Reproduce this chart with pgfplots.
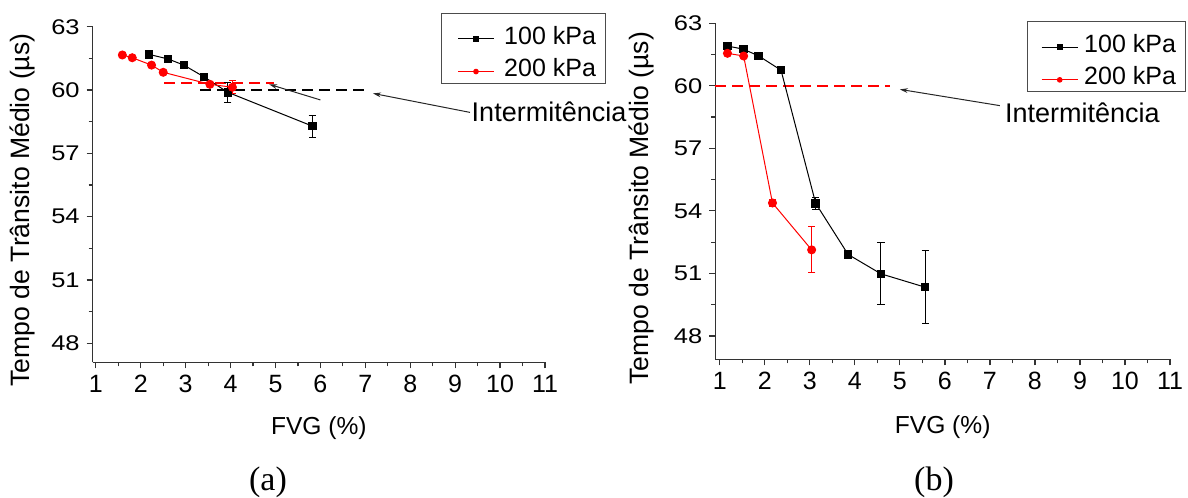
\documentclass[border=0pt]{standalone}
\usepackage{fontspec}
\setmainfont{Liberation Sans}
\newfontfamily\capfont{Liberation Serif}
\usepackage{graphicx}
\usepackage{pgfplots}
\usepackage{pgfplotstable}
\pgfplotsset{compat=1.18}
\usetikzlibrary{arrows.meta}

\pgfplotstableread{
x y e
2.18 61.69 0
2.61 61.47 0
2.96 61.18 0
3.41 60.62 0
3.94 59.89 0.48
5.82 58.29 0.52
}\aHundred
\pgfplotstableread{
x y e
1.59 61.66 0
1.81 61.53 0
2.24 61.18 0
2.50 60.84 0
3.54 60.27 0
4.04 60.13 0.31
}\aTwoHundred
\pgfplotstableread{
x y e
1.17 61.91 0
1.52 61.76 0
1.86 61.44 0
2.36 60.75 0
3.13 54.36 0.30
3.85 51.91 0
4.58 50.98 1.48
5.56 50.34 1.75
}\bHundred
\pgfplotstableread{
x y e
1.17 61.56 0
1.53 61.43 0
2.17 54.38 0.15
3.04 52.13 1.10
}\bTwoHundred

\tikzset{
  mydash/.style={line width=1.3bp, dash pattern=on 5.5bp off 3bp},
  arr/.style={-{Stealth[length=4bp,width=2.4bp]}, line width=0.5bp, black!85},
  inter/.style={font=\fontsize{13.5bp}{15bp}\selectfont, anchor=base west, inner sep=0pt},
}
\pgfplotsset{
  panel/.style={
    scale only axis,
    axis x line*=bottom, axis y line*=left,
    xmax=11, ymax=63,
    xtick={1,2,...,11}, ytick={48,51,...,63},
    minor x tick num=1, minor y tick num=1,
    tick align=outside,
    major tick length=3bp, minor tick length=2bp,
    tick style={line width=0.6bp, black!80},
    axis line style={line width=0.75bp, black!80},
    tick label style={font=\fontsize{12.5bp}{15bp}\selectfont, black},
    /pgf/number format/assume math mode=true,
    yticklabel={\scalebox{1.02}[0.85]{\pgfmathprintnumber{\tick}}},
    xlabel style={font=\fontsize{12.3bp}{15bp}\selectfont, anchor=base},
    ylabel style={font=\fontsize{13.3bp}{15bp}\selectfont, anchor=center},
    clip=false,
    legend cell align=left,
    legend style={draw=black!70, line width=0.5bp, font=\fontsize{12.5bp}{15bp}\selectfont,
      inner xsep=3.65bp, inner ysep=2.35bp,
      nodes={inner sep=1bp, text height=12.05bp, text depth=0pt},
      row sep=2.25bp, anchor=north west},
  },
  s100/.style={black, line width=0.5bp, mark=square*, mark size=1.9bp, mark options={solid},
    error bars/.cd, y dir=both, y explicit,
    error bar style={line width=0.5bp, black},
    error mark options={rotate=90, mark size=1.8bp, line width=0.5bp, black}},
  s200/.style={red, line width=0.5bp, mark=*, mark size=2bp, mark options={solid},
    error bars/.cd, y dir=both, y explicit,
    error bar style={line width=0.5bp, red},
    error mark options={rotate=90, mark size=1.8bp, line width=0.5bp, red}},
}

\begin{document}
\begin{tikzpicture}
\useasboundingbox (0,0) rectangle (594bp,249bp);

% ---------- (a) ----------
\begin{axis}[panel,
  at={(46.35bp,67.85bp)}, anchor=south west,
  width=226.15bp, height=167.8bp,
  xmin=0.93, ymin=47.1,
  xlabel={FVG (\%)}, ylabel={Tempo de Trânsito Médio (µs)},
  xlabel style={at={(axis description cs:0.5,-0.2166)}},
  ylabel style={at={(axis description cs:-0.1563,0.4538)}},
  legend style={at={(axis description cs:0.7694,1.0417)}, column sep=3.85bp},
  legend image code/.code={\path (0bp,-3.5bp) (22.5bp,-3.5bp);
    \draw[mark repeat=2,mark phase=2,#1,mark size=1.15bp] plot coordinates {(4.5bp,-3.5bp) (13.5bp,-3.5bp) (22.5bp,-3.5bp)};},
]
\addplot[mydash, red, line width=1.05bp, forget plot] coordinates {(2.52,60.32) (4.97,60.32)};
\addplot[mydash, black, line width=1.4bp, forget plot] coordinates {(3.32,60.0) (7.10,60.0)};
\addplot[s100] table[x=x,y=y,y error=e] {\aHundred};
\addlegendentry{100 kPa}
\addplot[s200] table[x=x,y=y,y error=e] {\aTwoHundred};
\addlegendentry{200 kPa}
\draw[arr] (axis cs:6.0,59.53) -- (axis cs:4.86,60.27);
\draw[arr] (axis cs:9.33,58.94) -- (axis cs:7.17,59.84);
\node[inter] at (axis cs:9.36,58.50) {Intermitência};
\end{axis}

% ---------- (b) ----------
\begin{axis}[panel,
  at={(357.65bp,69.35bp)}, anchor=south west,
  width=227.35bp, height=168bp,
  xmin=0.9, ymin=46.88,
  xlabel={FVG (\%)}, ylabel={Tempo de Trânsito Médio (µs)},
  xlabel style={at={(axis description cs:0.5,-0.2202)}},
  ylabel style={at={(axis description cs:-0.1634,0.4488)}},
  legend style={at={(axis description cs:0.6849,1.0068)}, column sep=2bp},
  legend image code/.code={\path (0bp,-3.5bp) (21.35bp,-3.5bp);
    \draw[mark repeat=2,mark phase=2,#1,mark size=1.15bp] plot coordinates {(3.35bp,-3.5bp) (12.35bp,-3.5bp) (21.35bp,-3.5bp)};},
]
\addplot[mydash, red, line width=1.2bp, forget plot] coordinates {(0.9,60.0) (4.78,60.0)};
\addplot[s100] table[x=x,y=y,y error=e] {\bHundred};
\addlegendentry{100 kPa}
\addplot[s200] table[x=x,y=y,y error=e] {\bTwoHundred};
\addlegendentry{200 kPa}
\draw[arr] (axis cs:7.22,59.05) -- (axis cs:5.0,59.83);
\node[inter] at (axis cs:7.33,58.25) {Intermitência};
\end{axis}

\node[font=\capfont\fontsize{17bp}{20bp}\selectfont, anchor=base] at (134bp,4bp) {(a)};
\node[font=\capfont\fontsize{17bp}{20bp}\selectfont, anchor=base] at (467bp,4bp) {(b)};
\end{tikzpicture}
\end{document}
